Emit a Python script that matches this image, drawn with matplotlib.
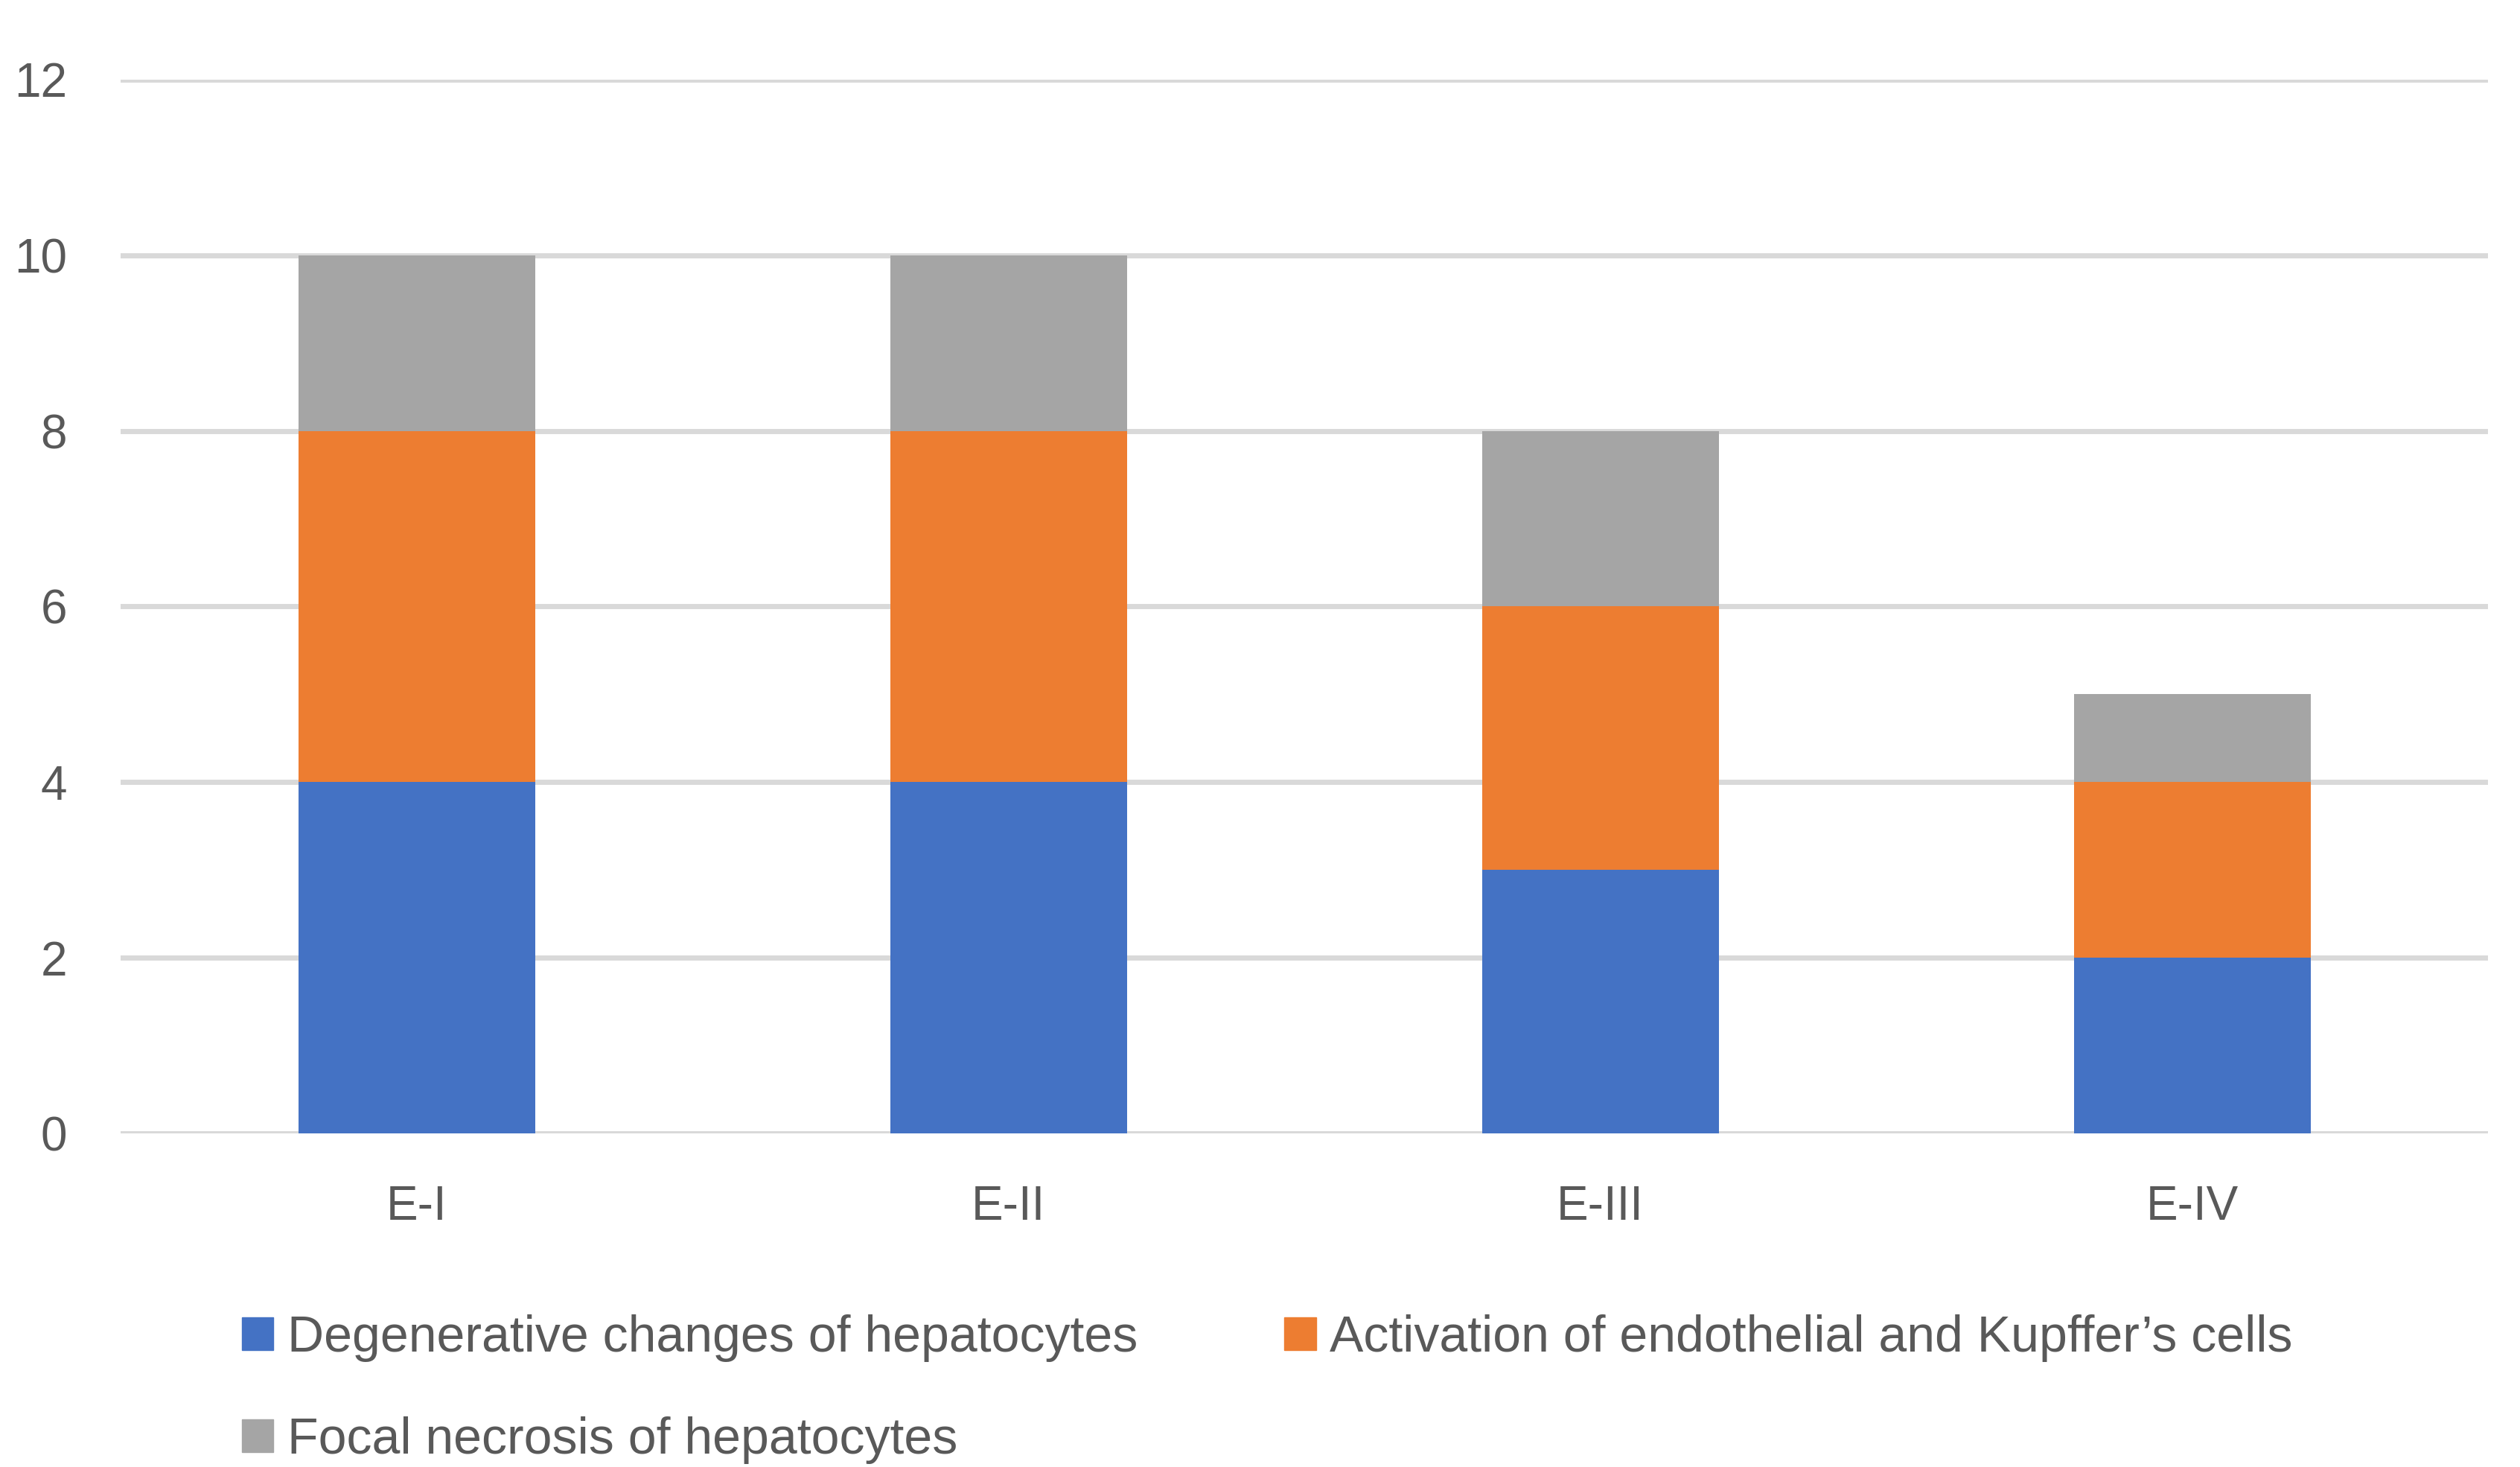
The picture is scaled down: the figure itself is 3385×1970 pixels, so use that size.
import matplotlib.pyplot as plt
import matplotlib.patches as mpatches
import numpy as np

plt.rcParams['font.family'] = ['Liberation Sans', 'DejaVu Sans']

groups = ["E-I", "E-II", "E-III", "E-IV"]
degenerative = [4, 4, 3, 2]
activation = [4, 4, 3, 2]
necrosis = [2, 2, 2, 1]

series_names = ["Degenerative changes of hepatocytes",
                "Activation of endothelial and Kupffer\u2019s cells",
                "Focal necrosis of hepatocytes"]
colors = ["#4472C4", "#ED7D31", "#A5A5A5"]
text_color = "#595959"
fs = 46

fig = plt.figure(figsize=(33.85, 19.70), dpi=100)
ax = fig.add_axes([0.0479, 0.2274, 0.9394, 0.7183])

x = np.arange(len(groups))
width = 0.4
bottom = np.zeros(len(groups))
for vals, c in zip([degenerative, activation, necrosis], colors):
    ax.bar(x, vals, width, bottom=bottom, color=c, zorder=3)
    bottom += np.array(vals)

ax.set_xlim(-0.5, len(groups) - 0.5)
ax.set_ylim(0, 12)
ax.set_yticks(range(0, 13, 2))
ax.set_xticks(x, groups)

ax.yaxis.grid(True, color="#D9D9D9", linewidth=5, zorder=0)
ax.set_axisbelow(True)
for s in ax.spines.values():
    s.set_visible(False)
ax.tick_params(axis='both', length=0, labelsize=fs, labelcolor=text_color)
ax.tick_params(axis='y', pad=52)
ax.tick_params(axis='x', pad=50)

# legend: two columns, Excel-style row order
handles = [mpatches.Patch(color=c) for c in colors]
order = [0, 2, 1]
leg = fig.legend([handles[i] for i in order], [series_names[i] for i in order],
                 ncol=2, loc='upper left', bbox_to_anchor=(0.088, 0.118),
                 frameon=False, fontsize=49, labelcolor=text_color,
                 handlelength=0.62, handleheight=0.62, handletextpad=0.27,
                 columnspacing=2.9, labelspacing=1.08, borderaxespad=0)

fig.savefig("out.png", dpi=100, facecolor="white")
